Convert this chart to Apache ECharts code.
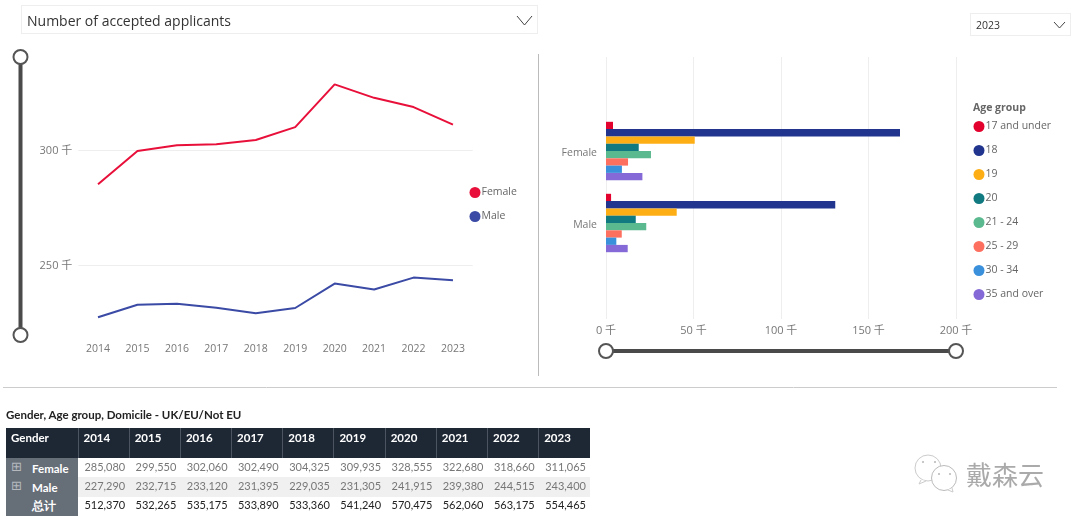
<!DOCTYPE html>
<html>
<head>
<meta charset="utf-8">
<script src="https://cdn.jsdelivr.net/npm/echarts@6/dist/echarts.min.js"></script>
<style>
	html, body { margin: 0; padding: 0; background: #fff; overflow: hidden; }
	#chart { position: absolute; left: 0; top: 0; width: 1080px; height: 523px; }
	.select { position: absolute; box-sizing: border-box; border: 1px solid #eee; font-family: 'Open Sans', sans-serif; color: #333; }
	#tableTitle { position: absolute; left: 6px; top: 408px; font: bold 11.5px Lato, sans-serif; color: #222; }
	#dataTable { position: absolute; left: 6px; top: 428px; width: 584px; border-collapse: collapse; table-layout: fixed; font: 11px Lato, sans-serif; }
	#dataTable th { background: #1e2835; color: #fff; height: 30px; padding: 0 0 11px 5px; text-align: left; font-weight: bold; font-size: 11.5px; border-left: 1px solid #4b5460; box-sizing: border-box; }
	#dataTable td { text-align: right; padding: 0 4px 3px 0; color: #777; height: 19.3px; box-sizing: border-box; }
	#dataTable tr.even td { background: #f0f0f0; }
	#dataTable tr.total td { color: #222; }
	#dataTable td.rowHead { background: #666e78 !important; color: #fff !important; text-align: left; padding: 1px 0 0 26px; position: relative; font-weight: bold; font-size: 11.5px; }
	#dataTable td.rowHead span { position: absolute; left: 5px; top: 1px; color: #b5b9be; font: 13px 'DejaVu Sans'; }
</style>
</head>
<body>
<div id="chart"></div>
<div class="select" style="left:21px;top:5px;width:517px;height:29px;padding:5px 5px;font-size:14px;">Number of accepted applicants</div>
<div class="select" style="left:970px;top:13px;width:101px;height:23px;padding:4px 5px;font-size:10.5px;">2023</div>
<div id="tableTitle">Gender, Age group, Domicile - UK/EU/Not EU</div>
<table id="dataTable"></table>
<script>
const years = ['2014', '2015', '2016', '2017', '2018', '2019', '2020', '2021', '2022', '2023'];
const femaleByYear = [285080, 299550, 302060, 302490, 304325, 309935, 328555, 322680, 318660, 311065];
const maleByYear = [227290, 232715, 233120, 231395, 229035, 231305, 241915, 239380, 244515, 243400];
const totalByYear = [512370, 532265, 535175, 533890, 533360, 541240, 570475, 562060, 563175, 554465];

const genders = ['Female', 'Male'];
const ageGroups = ['17 and under', '18', '19', '20', '21 - 24', '25 - 29', '30 - 34', '35 and over'];
const femaleByAge = [4000, 168000, 50700, 18700, 25700, 12600, 9100, 20800];
const maleByAge = [2900, 131000, 40400, 17000, 23000, 9000, 5900, 12400];

const ageColors = ['#e3022d', '#21358f', '#fcae14', '#107a80', '#5bb98f', '#fd6f5f', '#3b90db', '#8569d6'];
const fontName = "'Open Sans', 'Noto Sans CJK SC', sans-serif";
const thousands = v => (v / 1000) + ' 千';

let myChart = echarts.init(document.getElementById('chart'), null, { renderer: 'canvas' });

let series = [
	{
		name: 'Female', type: 'line', data: femaleByYear, xAxisIndex: 0, yAxisIndex: 0,
		symbol: 'none', color: '#e8103a', lineStyle: { width: 2 }
	},
	{
		name: 'Male', type: 'line', data: maleByYear, xAxisIndex: 0, yAxisIndex: 0,
		symbol: 'none', color: '#3a4aa5', lineStyle: { width: 2 }
	}
];
ageGroups.forEach((name, i) => {
	series.push({
		name: name, type: 'bar', xAxisIndex: 2, yAxisIndex: 2,
		data: [femaleByAge[i], maleByAge[i]],
		color: ageColors[i], barWidth: 7.3, barGap: '0%'
	});
});

const sliderLine = (x1, y1, x2, y2) => ({
	type: 'line', shape: { x1, y1, x2, y2 }, style: { stroke: '#4a4a4a', lineWidth: 4 }
});
const sliderKnob = (cx, cy) => ({
	type: 'circle', shape: { cx, cy, r: 7 }, style: { fill: '#fff', stroke: '#555', lineWidth: 2 }, z: 10
});
const chevron = (x, y, w, h) => ({
	type: 'polyline', shape: { points: [[x, y], [x + w / 2, y + h], [x + w, y]] }, style: { fill: 'none', stroke: '#444', lineWidth: 1 }, z: 10
});
const bubbleDot = (cx, cy) => ({
	type: 'circle', shape: { cx, cy, r: 1.1 }, style: { fill: '#bbb' }, z: 12
});
const bubbleTail = points => ({
	type: 'polyline', shape: { points }, style: { fill: '#fff', stroke: '#ccc', lineWidth: 1 }, z: 11
});

let option = {
	animation: false,
	backgroundColor: '#fff',
	textStyle: { fontFamily: fontName },
	grid: [
		{ left: 78.3, top: 58, width: 394.4, height: 276 },
		{ left: 606, top: 57, width: 350, height: 262 },
		{ left: 606, top: 115, width: 350, height: 144 }
	],
	legend: [
		{
			data: ['Female', 'Male'], orient: 'vertical', left: 469.5, top: 187,
			icon: 'circle', itemWidth: 11, itemHeight: 11, itemGap: 13, padding: 0,
			textStyle: { color: '#666', fontSize: 10.5, padding: [0, 0, 0, -4] }
		},
		{
			data: ageGroups, orient: 'vertical', left: 973.5, top: 121,
			icon: 'circle', itemWidth: 11, itemHeight: 11, itemGap: 13, padding: 0,
			textStyle: { color: '#666', fontSize: 10.5, padding: [0, 0, 0, -4] }
		}
	],
	xAxis: [
		{
			type: 'category', gridIndex: 0, data: years,
			axisLine: { show: false }, axisTick: { show: false },
			axisLabel: { color: '#777', fontSize: 10.5, margin: 10 }
		},
		{
			type: 'value', gridIndex: 1, min: 0, max: 200000, interval: 50000,
			axisLine: { show: false }, axisTick: { show: false },
			axisLabel: { color: '#777', fontSize: 11, margin: 6, formatter: thousands },
			splitLine: { lineStyle: { color: '#eee' } }
		},
		{ type: 'value', gridIndex: 2, min: 0, max: 200000, show: false }
	],
	yAxis: [
		{
			type: 'value', gridIndex: 0, min: 220000, max: 340000,
			axisLine: { show: false },
			axisTick: { show: false, customValues: [250000, 300000] },
			axisLabel: { color: '#777', fontSize: 11, margin: 6, verticalAlign: 'top', lineHeight: 2, customValues: [250000, 300000], formatter: thousands },
			splitLine: { lineStyle: { color: '#eee' } }
		},
		{ type: 'value', gridIndex: 1, show: false },
		{
			type: 'category', gridIndex: 2, data: genders, inverse: true,
			axisLine: { show: false }, axisTick: { show: false },
			axisLabel: { color: '#777', fontSize: 10.5, margin: 9, verticalAlign: 'top', lineHeight: 4 }
		}
	],
	series: series,
	graphic: [
		sliderLine(20.5, 57, 20.5, 335),
		sliderKnob(20.5, 57),
		sliderKnob(20.5, 335),
		sliderLine(606, 351, 956, 351),
		sliderKnob(606, 351),
		sliderKnob(956, 351),
		{ type: 'line', shape: { x1: 538.5, y1: 54, x2: 538.5, y2: 376 }, style: { stroke: '#bbb', lineWidth: 1 } },
		{ type: 'line', shape: { x1: 3, y1: 387.5, x2: 1057, y2: 387.5 }, style: { stroke: '#ccc', lineWidth: 1 } },
		chevron(517, 16, 15, 9),
		chevron(1054, 22, 11, 6),
		{ type: 'text', x: 973, y: 103, style: { text: 'Age group', fill: '#666', font: "bold 10.5px 'Open Sans'" } },
		{ type: 'circle', shape: { cx: 928, cy: 468, r: 13 }, style: { fill: '#fff', stroke: '#ccc', lineWidth: 1 }, z: 10 },
		bubbleTail([[921, 480], [919, 484], [926, 481]]),
		{ type: 'circle', shape: { cx: 944, cy: 478, r: 12.5 }, style: { fill: '#fff', stroke: '#bbb', lineWidth: 1 }, z: 11 },
		bubbleTail([[948, 490], [953, 492], [952, 488]]),
		bubbleDot(923, 462),
		bubbleDot(935, 462),
		bubbleDot(939, 474),
		bubbleDot(950, 474),
		{ type: 'text', x: 966, y: 462, style: { text: '戴森云', fill: '#aaa', font: "26px 'Noto Sans CJK SC'" } }
	]
};
myChart.setOption(option);

// table under the charts, same numbers as the line series
const fmt = v => v.toLocaleString('en-US');
const cells = arr => arr.map(v => '<td>' + fmt(v) + '</td>').join('');
document.getElementById('dataTable').innerHTML =
	'<colgroup><col style="width:72px">' + years.map(() => '<col>').join('') + '</colgroup>' +
	'<tr><th style="border-left:0">Gender</th>' + years.map(y => '<th>' + y + '</th>').join('') + '</tr>' +
	'<tr><td class="rowHead"><span>⊞</span>Female</td>' + cells(femaleByYear) + '</tr>' +
	'<tr class="even"><td class="rowHead"><span>⊞</span>Male</td>' + cells(maleByYear) + '</tr>' +
	'<tr class="total"><td class="rowHead">总计</td>' + cells(totalByYear) + '</tr>';
</script>
</body>
</html>
